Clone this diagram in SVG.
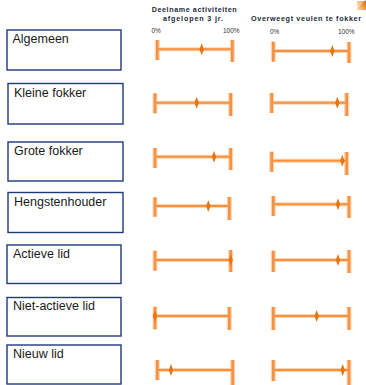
<svg xmlns="http://www.w3.org/2000/svg" width="366" height="385" viewBox="0 0 366 385">
<defs>
<style>
.box{fill:#fff;stroke:#1f3a78;stroke-width:1.4}
.lbl{font-family:"Liberation Sans",Arial,sans-serif;font-size:12.5px;fill:#1a1a1a}
.hdr{font-family:"Liberation Sans",Arial,sans-serif;font-size:7.2px;font-weight:bold;fill:#222a3a}
.pct{font-family:"Liberation Sans",Arial,sans-serif;font-size:6.5px;fill:#333}
.halo{stroke:#fbd3b0;fill:none;stroke-linecap:butt}
.core{stroke:#f7913f;fill:none;stroke-linecap:butt}
.dia{fill:#e8740f}
</style>
<linearGradient id="cg" x1="0" y1="1" x2="1" y2="0">
<stop offset="0" stop-color="#fde3b8"/>
<stop offset="0.5" stop-color="#f0a040"/>
<stop offset="1" stop-color="#c86010"/>
</linearGradient>
<symbol id="d" overflow="visible"><path d="M0,-6 L2.2,0 L0,6 L-2.2,0 Z" class="dia"/></symbol>
</defs>
<rect width="366" height="385" fill="#fff"/>
<path d="M366,0 L366,10 L356,10 Z" fill="url(#cg)"/>
<rect x="357" y="1" width="9" height="9" fill="url(#cg)" opacity="0.6"/>

<g id="headers">
<text class="hdr" x="151.7" y="11.5" textLength="85" lengthAdjust="spacing">Deelname activiteiten</text>
<text class="hdr" x="163" y="21" textLength="60" lengthAdjust="spacing">afgelopen 3 jr.</text>
<text class="hdr" x="251" y="20.5" textLength="110" lengthAdjust="spacing">Overweegt veulen te fokker</text>
<text class="pct" x="151.5" y="33">0%</text>
<text class="pct" x="223" y="33">100%</text>
<text class="pct" x="270" y="34">0%</text>
<text class="pct" x="338" y="34">100%</text>
</g>

<g id="node-algemeen"><rect class="box" x="7" y="30" width="114" height="40"/><text class="lbl" x="12.5" y="43">Algemeen</text></g>
<g id="node-kleine"><rect class="box" x="8" y="83.5" width="115" height="40.5"/><text class="lbl" x="14" y="96.5">Kleine fokker</text></g>
<g id="node-grote"><rect class="box" x="8" y="142" width="115" height="39"/><text class="lbl" x="14" y="154.5">Grote fokker</text></g>
<g id="node-hengst"><rect class="box" x="8" y="192.5" width="115" height="40"/><text class="lbl" x="14" y="205.5">Hengstenhouder</text></g>
<g id="node-actief"><rect class="box" x="7" y="245" width="114" height="38.5"/><text class="lbl" x="13" y="257.5">Actieve lid</text></g>
<g id="node-nietactief"><rect class="box" x="7" y="297.5" width="114" height="38.5"/><text class="lbl" x="13" y="310">Niet-actieve lid</text></g>
<g id="node-nieuw"><rect class="box" x="7" y="345" width="114" height="39"/><text class="lbl" x="13" y="357.5">Nieuw lid</text></g>

<g id="connectors">
<g class="halo" stroke-width="4">
<path d="M157.3,49.3H232.3 M273.3,51H349 M155,102.7H230.7 M271.7,102.7H346.7 M155,156.7H230.7 M271.7,160.7H346.7 M155,206H229.3 M273.3,204.3H349 M155,260H230.7 M273.3,260H349 M155,316H229.3 M273.3,316H349 M157.3,370H232.7 M273.3,370H349"/>
</g>
<g class="halo" stroke-width="5">
<path d="M157.3,40V60 M232.3,40V62 M273.3,41.7V61.7 M349,42V63 M155,93.3V113.3 M230.7,93V116 M271.7,93V113 M346.7,93V116 M155,148V168 M230.7,148V170 M271.7,151.7V171.7 M346.7,152V175 M155,197.3V216.7 M229.3,197V220 M273.3,196V216 M349,196V218 M155,250.7V270.7 M230.7,250V272 M273.3,250.7V272 M349,250V273 M155,306.7V329.3 M229.3,307V330 M273.3,307V330 M349,307V330 M157.3,360V380 M232.7,360V385 M273.3,360V381 M349,360V385"/>
</g>
<g class="core" stroke-width="2">
<path d="M157.3,49.3H232.3 M273.3,51H349 M155,102.7H230.7 M271.7,102.7H346.7 M155,156.7H230.7 M271.7,160.7H346.7 M155,206H229.3 M273.3,204.3H349 M155,260H230.7 M273.3,260H349 M155,316H229.3 M273.3,316H349 M157.3,370H232.7 M273.3,370H349"/>
</g>
<g class="core" stroke-width="2.6">
<path d="M157.3,40V60 M232.3,40V62 M273.3,41.7V61.7 M349,42V63 M155,93.3V113.3 M230.7,93V116 M271.7,93V113 M346.7,93V116 M155,148V168 M230.7,148V170 M271.7,151.7V171.7 M346.7,152V175 M155,197.3V216.7 M229.3,197V220 M273.3,196V216 M349,196V218 M155,250.7V270.7 M230.7,250V272 M273.3,250.7V272 M349,250V273 M155,306.7V329.3 M229.3,307V330 M273.3,307V330 M349,307V330 M157.3,360V380 M232.7,360V385 M273.3,360V381 M349,360V385"/>
</g>
<use href="#d" x="201.7" y="49.3"/>
<use href="#d" x="332.3" y="51"/>
<use href="#d" x="196.7" y="102.7"/>
<use href="#d" x="337.3" y="102.7"/>
<use href="#d" x="214" y="156.7"/>
<use href="#d" x="342.3" y="160.7"/>
<use href="#d" x="208.3" y="206"/>
<use href="#d" x="338" y="204.3"/>
<use href="#d" x="230.7" y="260"/>
<use href="#d" x="338" y="260"/>
<use href="#d" x="155" y="316"/>
<use href="#d" x="316.7" y="316"/>
<use href="#d" x="171" y="370"/>
<use href="#d" x="342.7" y="370"/>
</g>
</svg>
